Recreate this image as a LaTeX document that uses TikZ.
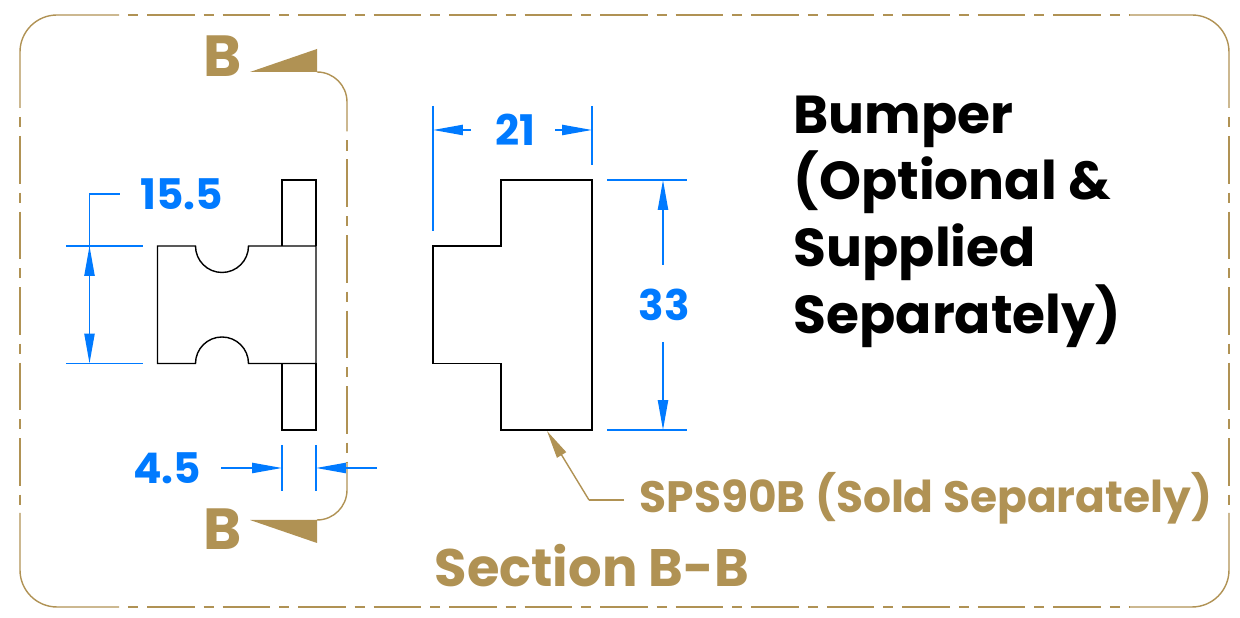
\documentclass[tikz,border=0pt]{standalone}
\usepackage{fontspec}
\usepackage{xcolor}
\usepackage{tikz}
\usetikzlibrary{arrows.meta}
\setmainfont{Poppins}
\definecolor{gold}{RGB}{176,146,84}
\definecolor{dimblue}{RGB}{0,122,255}
\tikzset{
	part/.style={black, line width=.4pt},
	goldline/.style={gold, line width=.4pt},
	cutline/.style={goldline, dash pattern=on 13.52pt off 2.56pt on 2.85pt off 2.56pt, dash phase=13.52pt},
	dimline/.style={dimblue, line width=.45pt},
	dimarrow/.style={dimline, -{Triangle[length=8.5pt,width=2.9pt]}},
	dimtext/.style={dimblue, font=\bfseries\fontsize{12pt}{12pt}\selectfont},
	secletter/.style={gold, font=\bfseries\fontsize{16.5pt}{16.5pt}\selectfont},
}
\begin{document}
\begin{tikzpicture}
		\useasboundingbox (0,0) rectangle (12.4,6.18);
		% frame
		\draw[goldline] (.2,5.1) -- (.2,5.66) arc (180:90:.37) -- (1.19,6.03);
		\draw[cutline] (1.19,6.03) -- (11.29,6.03);
		\draw[goldline] (11.29,6.03) -- (11.92,6.03) arc (90:0:.37) -- (12.29,5.1);
		\draw[goldline] (.2,1.05) -- (.2,.48) arc (180:270:.37) -- (1.19,.11);
		\draw[cutline] (1.19,.11) -- (11.29,.11);
		\draw[goldline] (11.29,.11) -- (11.92,.11) arc (270:360:.37) -- (12.29,1.05);
		\draw[cutline] (.2,5.1) -- (.2,1.05);
		\draw[cutline] (12.29,5.1) -- (12.29,1.05);
		% cutting plane
		\draw[goldline] (3.17,5.46) arc (90:0:.30) -- (3.47,4.865);
		\draw[cutline] (3.47,4.865) -- (3.47,1.555);
		\draw[goldline] (3.47,1.555) -- (3.47,1.28) arc (0:-90:.30);
		\fill[gold] (2.50,5.46) -- (3.17,5.69) -- (3.17,5.46) -- cycle;
		\fill[gold] (2.50,.98) -- (3.17,.75) -- (3.17,.98) -- cycle;
		\node[secletter] (cutTop) at (2.23,5.62) {B};
		\node[secletter] (cutBottom) at (2.23,.885) {B};
		% bumper
		\draw[part] (1.575,3.72) -- (1.955,3.72) arc (180:360:.265) -- (3.16,3.72) -- (3.16,2.545) -- (2.485,2.545) arc (0:180:.265) -- (1.575,2.545) -- cycle;
		\draw[part] (2.82,3.72) -- (2.82,4.38) -- (3.16,4.38) -- (3.16,3.72);
		\draw[part] (2.82,2.545) -- (2.82,1.88) -- (3.16,1.88) -- (3.16,2.545);
		% sps90b
		\draw[part] (4.33,3.72) -- (5.01,3.72) -- (5.01,4.38) -- (5.92,4.38) -- (5.92,1.88) -- (5.01,1.88) -- (5.01,2.545) -- (4.33,2.545) -- cycle;
		% 15.5
		\draw[dimline] (.66,3.72) -- (1.43,3.72);
		\draw[dimline] (.66,2.545) -- (1.43,2.545);
		\draw[dimline] (1.2,4.24) -- (.895,4.24) -- (.895,3.2);
		\draw[dimarrow] (.895,3.2) -- (.895,3.72);
		\draw[dimarrow] (.895,3.2) -- (.895,2.545);
		\node[dimtext] (dimWidth) at (1.815,4.24) {15.5};
		% 4.5
		\draw[dimline] (2.82,1.73) -- (2.82,1.27);
		\draw[dimline] (3.16,1.73) -- (3.16,1.27);
		\draw[dimarrow] (2.21,1.5) -- (2.82,1.5);
		\draw[dimarrow] (3.77,1.5) -- (3.16,1.5);
		\node[dimtext] (dimTab) at (1.67,1.5) {4.5};
		% 21
		\draw[dimline] (4.33,5.12) -- (4.33,3.87);
		\draw[dimline] (5.92,5.12) -- (5.92,4.53);
		\draw[dimarrow] (4.71,4.88) -- (4.33,4.88);
		\draw[dimarrow] (5.55,4.88) -- (5.92,4.88);
		\node[dimtext] (dimDepth) at (5.15,4.88) {21};
		% 33
		\draw[dimline] (6.07,4.38) -- (6.87,4.38);
		\draw[dimline] (6.07,1.88) -- (6.87,1.88);
		\draw[dimarrow] (6.63,3.53) -- (6.63,4.38);
		\draw[dimarrow] (6.63,2.76) -- (6.63,1.88);
		\node[dimtext] (dimHeight) at (6.64,3.13) {33};
		% labels
		\node[gold, font=\bfseries\fontsize{12.5pt}{12.5pt}\selectfont, anchor=west, inner sep=0pt] (sps) at (6.39,1.2) {SPS90B (Sold Separately)};
		\coordinate (leaderKnee) at (5.89,1.18);
		\coordinate (leaderTip) at (5.47,1.87);
		\draw[goldline] (6.24,1.18) -- (leaderKnee);
		\draw[goldline, -{Triangle[length=8pt,width=3pt]}] (leaderKnee) -- (leaderTip);
		\node[gold, font=\bfseries\fontsize{15pt}{15pt}\selectfont, anchor=west, inner sep=0pt] (section) at (4.34,.52) {Section B-B};
		\node[black, font=\bfseries\fontsize{15.2pt}{19pt}\selectfont, anchor=north west, align=left, inner sep=0pt] (title) at (7.93,5.23) {Bumper\\(Optional \&\\Supplied\\Separately)};
		
		\end{tikzpicture}
\end{document}
